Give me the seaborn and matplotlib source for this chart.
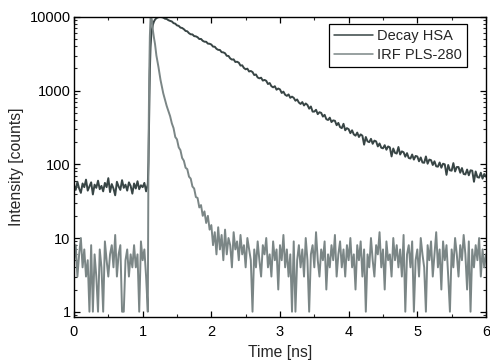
import numpy as np
import pandas as pd
import matplotlib
matplotlib.use("Agg")
import matplotlib.pyplot as plt
import seaborn as sns
from matplotlib.ticker import LogLocator, MultipleLocator, NullFormatter

# ---------------- data ----------------
series_names = ["Decay HSA", "IRF PLS-280"]
series_colors = ["#384545", "#7b8686"]

# time grid pieces [ns]
t_base = np.round(np.arange(44) * 0.025, 3)            # 0.000 ... 1.075
t_peak = [1.085, 1.095, 1.105, 1.115, 1.125, 1.135, 1.15, 1.165, 1.18, 1.2, 1.23, 1.26, 1.28]
t_tail = np.round(1.3 + np.arange(189) * 0.025, 3)     # 1.300 ... 6.000

decay_base = [52, 45, 58, 47, 41, 55, 49, 62, 44, 50, 57, 39, 53, 48, 60, 46, 51, 43, 56, 49,
              65, 42, 54, 47, 38, 58, 50, 45, 61, 48, 53, 44, 57, 51, 40, 55, 47, 59, 46, 52,
              49, 56, 43, 54]
decay_peak = [110, 500, 1900, 3900, 5600, 6800, 7900, 8700, 9200, 9650, 9950, 10050, 9950]
decay_tail = [9820, 9480, 9400, 9050, 8850, 8700, 8250, 8110, 7690, 7580, 7180, 7090,
              6830, 6470, 6390, 6020, 5820, 5800, 5500, 5460, 5310, 5020, 5040, 4750,
              4620, 4610, 4350, 4330, 4230, 3960, 3950, 3700, 3580, 3570, 3330, 3310,
              3220, 2970, 2960, 2740, 2640, 2660, 2450, 2470, 2400, 2190, 2210, 2030,
              1950, 1990, 1820, 1850, 1790, 1630, 1660, 1510, 1470, 1500, 1370, 1400,
              1360, 1230, 1270, 1150, 1110, 1150, 1030, 1070, 1040, 930, 970, 880,
              850, 890, 800, 830, 800, 730, 760, 690, 660, 700, 630, 670,
              640, 570, 610, 520, 520, 550, 480, 510, 500, 445, 470, 410,
              400, 430, 375, 395, 390, 340, 365, 320, 310, 355, 290, 310,
              300, 265, 290, 255, 245, 270, 235, 255, 245, 185, 235, 205,
              200, 222, 190, 210, 205, 175, 192, 168, 165, 182, 158, 175,
              170, 128, 164, 143, 140, 172, 136, 150, 146, 127, 142, 122,
              120, 136, 116, 130, 128, 110, 124, 106, 105, 128, 102, 116,
              114, 98, 110, 94, 93, 106, 90, 102, 100, 72, 98, 83,
              82, 104, 80, 92, 92, 77, 89, 74, 73, 85, 71, 83,
              82, 58, 80, 67, 66, 77, 64, 74, 68]

irf_base = [5, 8, 3, 6, 10, 4, 7, 3, 5, 1, 8, 1, 6, 3, 1, 7, 4, 1, 9, 5,
            3, 6, 8, 4, 11, 3, 6, 8, 1, 1, 5, 7, 3, 6, 4, 8, 4, 6, 1, 9,
            5, 7, 3, 1]
irf_peak = [150, 1500, 5500, 9800, 10000, 9000, 6500, 5200, 4300, 3000, 2100, 1400, 1130]
irf_tail = [920, 760, 620, 530, 450, 360, 310, 235, 218, 170, 156, 122,
            112, 90, 86, 68, 64, 50, 47, 36, 35, 26, 28, 20, 23, 16, 20, 13,
            15, 8, 12, 6, 14, 7, 11, 5, 13, 6, 10, 8, 4, 12, 7, 9, 5, 11, 6, 8,
            4, 10, 7, 5,
            1, 7, 4, 9, 5, 3, 8, 6, 10, 4,
            6, 3, 9, 5, 7, 2, 8, 5, 11, 4,
            7, 3, 6, 1, 9, 1, 5, 8, 4, 7,
            3, 10, 5, 1, 6, 8, 4, 12, 5, 3,
            7, 5, 9, 2, 6, 4, 8, 5, 11, 3,
            6, 9, 4, 7, 3, 8, 5, 10, 4, 6,
            2, 8, 5, 9, 3, 7, 1, 6, 4, 10,
            5, 3, 8, 6, 12, 4, 7, 2, 9, 5,
            6, 3, 10, 5, 8, 4, 7, 3, 11, 1,
            6, 8, 4, 9, 1, 5, 7, 3, 10, 6,
            4, 1, 8, 5, 9, 3, 6, 12, 4, 7,
            2, 9, 5, 8, 3, 1, 7, 4, 10, 6,
            3, 8, 5, 11, 6, 2, 9, 1, 7, 4,
            8, 5, 10, 3, 7, 4, 6]

x_ticks = [0, 1, 2, 3, 4, 5, 6]
y_ticks = [1, 10, 100, 1000, 10000]

# ---------------- table ----------------
t_all = np.concatenate([t_base, t_peak, t_tail])
df = pd.concat([
    pd.DataFrame({"t": t_all, "counts": np.concatenate([decay_base, decay_peak, decay_tail]),
                  "series": series_names[0]}),
    pd.DataFrame({"t": t_all, "counts": np.concatenate([irf_base, irf_peak, irf_tail]),
                  "series": series_names[1]}),
], ignore_index=True)

# ---------------- style ----------------
sns.set_theme(style="ticks")
plt.rcParams['font.family'] = ['Liberation Sans', 'DejaVu Sans']
plt.rcParams.update({
    "axes.linewidth": 1.0,
    "axes.edgecolor": "black",
    "xtick.direction": "in",
    "ytick.direction": "in",
    "xtick.top": True,
    "ytick.right": True,
})

FS = 10.5
FL = 11.3

fig = plt.figure(figsize=(4.9, 3.6), dpi=100)
ax = fig.add_axes([0.151, 0.1194, 0.8408, 0.8334])

sns.lineplot(data=df, x="t", y="counts", hue="series", hue_order=series_names,
             palette=series_colors, estimator=None, linewidth=1.4, ax=ax)

ax.set_yscale("log")
ax.set_xlim(0, 6)
ax.set_ylim(0.847, 10000)

ax.set_xticks(x_ticks)
ax.xaxis.set_minor_locator(MultipleLocator(0.5))
ax.yaxis.set_minor_locator(LogLocator(base=10, subs=np.arange(2, 10), numticks=20))
ax.yaxis.set_minor_formatter(NullFormatter())
ax.set_yticks(y_ticks)
ax.set_yticklabels([str(v) for v in y_ticks])

ax.tick_params(which="major", length=4, width=0.9, labelsize=FS, pad=2.5,
               top=True, right=True, colors="black")
ax.tick_params(axis="x", which="major", pad=6)
ax.tick_params(which="minor", length=2.2, width=0.8, top=True, right=True)

ax.set_xlabel("Time [ns]", fontsize=FL, labelpad=4)
ax.set_ylabel("Intensity [counts]", fontsize=FL, labelpad=4)

handles, labels = ax.get_legend_handles_labels()
leg = ax.legend(handles, labels, loc="upper right", bbox_to_anchor=(0.954, 0.978),
                fontsize=FS, frameon=True, fancybox=False, framealpha=1,
                edgecolor="black", borderpad=0.35, labelspacing=0.35,
                handlelength=2.7, handletextpad=0.25, borderaxespad=0)
leg.get_frame().set_linewidth(0.9)
for line in leg.get_lines():
    line.set_linewidth(1.1)

fig.savefig("out.png", dpi=100)
